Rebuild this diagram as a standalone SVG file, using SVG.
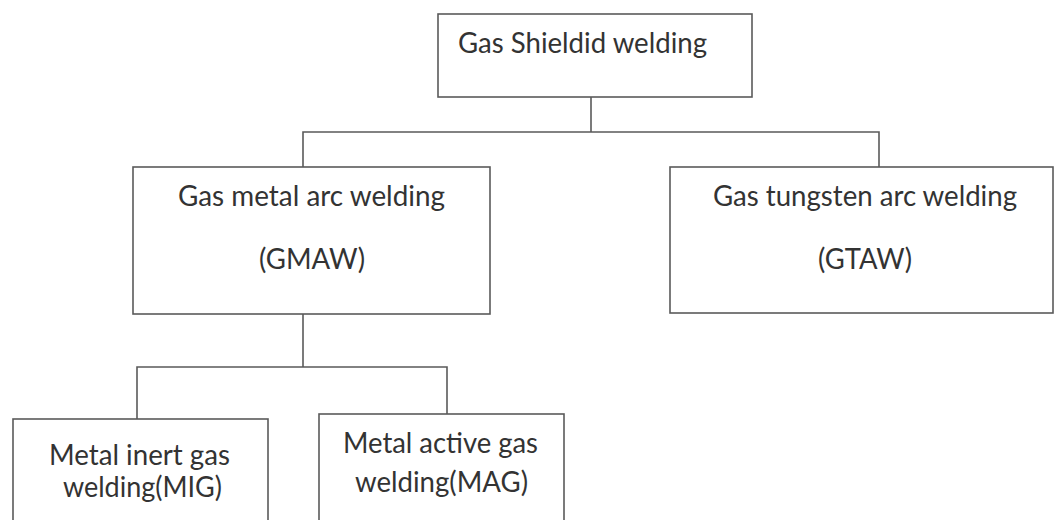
<svg xmlns="http://www.w3.org/2000/svg" width="1055" height="520" viewBox="0 0 1055 520">
<style>
.box{fill:#ffffff;stroke:#5a5a5a;stroke-width:1.6}
.conn{fill:none;stroke:#5a5a5a;stroke-width:1.6}
.t{font-family:Lato,"Open Sans","Liberation Sans",sans-serif;font-size:28px;fill:#333333;text-anchor:middle}
</style>
<rect width="1055" height="520" fill="#ffffff"/>
<g id="connectors">
<polyline class="conn" points="591,97 591,132"/>
<polyline class="conn" points="303,167 303,132 879,132 879,167"/>
<polyline class="conn" points="303,314 303,367"/>
<polyline class="conn" points="137,419 137,367 447,367 447,414"/>
</g>
<g id="gas-shielded-welding">
<rect class="box" x="438" y="14" width="314" height="83"/>
<text class="t" x="582.5" y="53" textLength="249" lengthAdjust="spacingAndGlyphs">Gas Shieldid welding</text>
</g>
<g id="gmaw">
<rect class="box" x="133" y="167" width="357" height="147"/>
<text class="t" x="311.5" y="206" textLength="267" lengthAdjust="spacingAndGlyphs">Gas metal arc welding</text>
<text class="t" x="312" y="269" textLength="106" lengthAdjust="spacingAndGlyphs">(GMAW)</text>
</g>
<g id="gtaw">
<rect class="box" x="670" y="167" width="383" height="146"/>
<text class="t" x="865" y="206" textLength="304" lengthAdjust="spacingAndGlyphs">Gas tungsten arc welding</text>
<text class="t" x="865" y="269" textLength="94" lengthAdjust="spacingAndGlyphs">(GTAW)</text>
</g>
<g id="mig">
<rect class="box" x="13" y="419" width="255" height="120"/>
<text class="t" x="139.5" y="465" textLength="181" lengthAdjust="spacingAndGlyphs">Metal inert gas</text>
<text class="t" x="142.5" y="497" textLength="159" lengthAdjust="spacingAndGlyphs">welding(MIG)</text>
</g>
<g id="mag">
<rect class="box" x="319" y="414" width="245" height="125"/>
<text class="t" x="440.5" y="453" textLength="195" lengthAdjust="spacingAndGlyphs">Metal active gas</text>
<text class="t" x="441.5" y="492" textLength="173" lengthAdjust="spacingAndGlyphs">welding(MAG)</text>
</g>
</svg>
